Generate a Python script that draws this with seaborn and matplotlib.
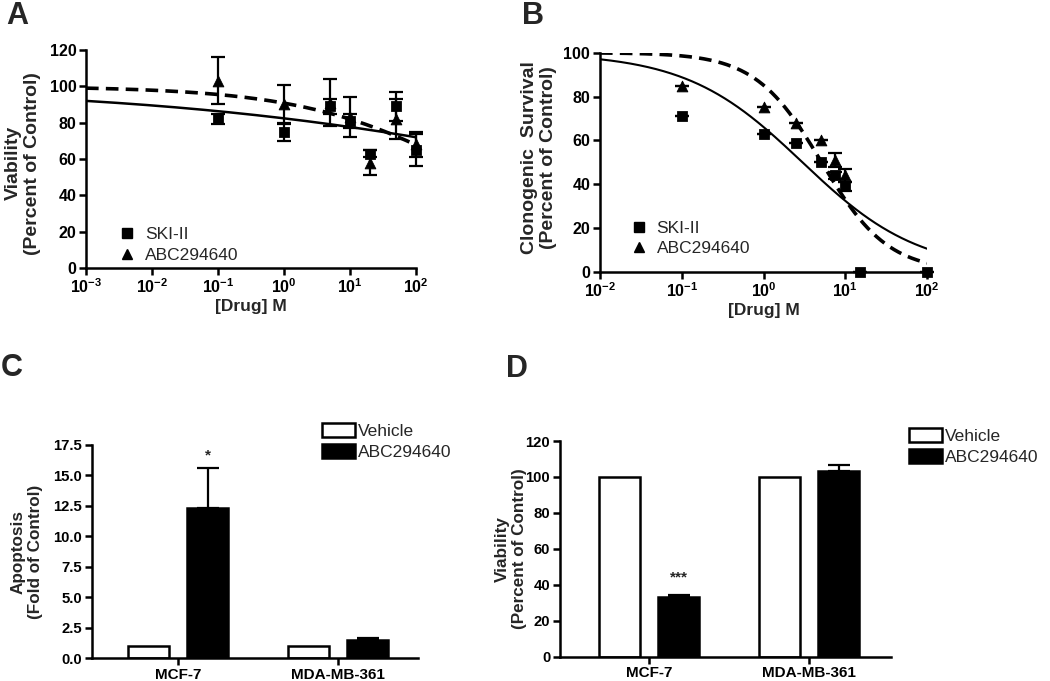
import numpy as np
import pandas as pd
import matplotlib
matplotlib.use('Agg')
import matplotlib.pyplot as plt
from matplotlib.lines import Line2D
from matplotlib.patches import Patch
import seaborn as sns

# ── Data ─────────────────────────────────────────────────────
# Panel A: viability vs dose (mean, SEM)
a_dose = [0.1, 1, 5, 10, 20, 50, 100]
a_ski = [82, 75, 89, 81, 63, 89, 65]
a_ski_err = [3, 5, 4, 4, 2, 8, 9]
a_abc = [103, 90, 91, 83, 58, 82, 68]
a_abc_err = [13, 11, 13, 11, 7, 11, 7]
# fitted curves: [top, bottom, logEC50, hill]
a_fit_ski = [100, 0, 5.15, 0.13]
a_fit_abc = [100, 0, 2.96, 0.335]

# Panel B: clonogenic survival
b_dose_ski = [0.1, 1, 2.5, 5, 7.5, 10, 15, 100]
b_ski = [71, 63, 59, 50, 44, 39, 0, 0]
b_ski_err = [0, 0, 0, 0, 1.5, 2, 0, 0]
b_dose_abc = [0.1, 1, 2.5, 5, 7.5, 10]
b_abc = [85, 75, 68, 60, 51, 44]
b_abc_err = [0, 0, 0, 0, 3, 3]
b_fit_ski = [100, 0, 0.475, 0.61]
b_fit_abc = [100, 0, 0.71, 1.07]

# Panels C / D: bars
cells = ['MCF-7', 'MDA-MB-361']
treatments = ['Vehicle', 'ABC294640']
c_vehicle = [1.0, 1.0]
c_abc = [12.3, 1.5]
c_abc_err = [3.3, 0.15]
d_vehicle = [100, 100]
d_abc = [33, 103.5]
d_abc_err = [1.5, 3.0]

log_ticks_a = [1e-3, 1e-2, 1e-1, 1e0, 1e1, 1e2]
log_labels_a = ['-3', '-2', '-1', '0', '1', '2']
log_ticks_b = [1e-2, 1e-1, 1e0, 1e1, 1e2]
log_labels_b = ['-2', '-1', '0', '1', '2']


def hill(x, p):
    top, bottom, logec50, h = p
    return bottom + (top - bottom) / (1 + 10 ** ((np.log10(x) - logec50) * h))


# ── Style ────────────────────────────────────────────────────
sns.set_style('ticks')
plt.rcParams['font.family'] = ['Liberation Sans', 'DejaVu Sans']
plt.rcParams['font.weight'] = 'bold'
plt.rcParams['axes.labelweight'] = 'bold'
plt.rcParams['mathtext.fontset'] = 'custom'
plt.rcParams['mathtext.bf'] = 'Liberation Sans:bold'
plt.rcParams['mathtext.rm'] = 'Liberation Sans'

SPINE = 1.8
LEG = {'weight': 'normal', 'size': 12.5}

fig = plt.figure(figsize=(10.5, 6.81), dpi=100)
axA = fig.add_axes([0.0819, 0.6065, 0.3143, 0.3201])
axB = fig.add_axes([0.5714, 0.6010, 0.3115, 0.3216])
axC = fig.add_axes([0.0873, 0.0333, 0.3107, 0.3133])
axD = fig.add_axes([0.5333, 0.0357, 0.3150, 0.3167])


def style_axis(ax, size):
    sns.despine(ax=ax)
    for s in ['left', 'bottom']:
        ax.spines[s].set_linewidth(SPINE)
        ax.spines[s].set_color('black')
    ax.tick_params(width=SPINE, length=5, labelsize=size, color='black',
                   labelcolor='black', pad=2)


# ── A ────────────────────────────────────────────────────────
xa = np.logspace(-3, 2, 300)
axA.set_xscale('log')
sns.lineplot(x=xa, y=hill(xa, a_fit_ski), ax=axA, color='black', lw=1.8)
sns.lineplot(x=xa, y=hill(xa, a_fit_abc), ax=axA, color='black', lw=2.6,
             linestyle=(0, (3.5, 2)))
axA.errorbar(a_dose, a_ski, yerr=a_ski_err, fmt='none', ecolor='black',
             elinewidth=1.6, capsize=5, capthick=1.6, clip_on=False)
axA.errorbar(a_dose, a_abc, yerr=a_abc_err, fmt='none', ecolor='black',
             elinewidth=1.6, capsize=5, capthick=1.6, clip_on=False)
sns.scatterplot(x=a_dose, y=a_ski, ax=axA, marker='s', color='black', s=50,
                edgecolor='black', zorder=5, clip_on=False)
sns.scatterplot(x=a_dose, y=a_abc, ax=axA, marker='^', color='black', s=60,
                edgecolor='black', zorder=5, clip_on=False)
axA.set_xlim(1e-3, 1e2)
axA.set_ylim(0, 120)
axA.set_yticks(range(0, 121, 20))
axA.set_xticks(log_ticks_a)
axA.set_xticklabels([r'$\mathbf{10^{%s}}$' % l for l in log_labels_a])
axA.xaxis.set_minor_locator(matplotlib.ticker.NullLocator())
axA.set_xlabel('[Drug] M', fontsize=12.5, labelpad=2)
axA.set_ylabel('Viability\n(Percent of Control)', fontsize=14)
axA.yaxis.set_label_coords(-0.135, 0.48)
style_axis(axA, 11.5)
hA = [Line2D([], [], marker='s', color='black', ls='none', markersize=7),
      Line2D([], [], marker='^', color='black', ls='none', markersize=7.5)]
axA.legend(hA, ['SKI-II', 'ABC294640'], loc='upper left',
           bbox_to_anchor=(0.073, 0.227), frameon=False, prop=LEG,
           borderpad=0, handlelength=1, handletextpad=0.5, labelspacing=0.3)

# ── B ────────────────────────────────────────────────────────
xb = np.logspace(-2, 2, 300)
axB.set_xscale('log')
sns.lineplot(x=xb, y=hill(xb, b_fit_ski), ax=axB, color='black', lw=1.5)
sns.lineplot(x=xb, y=hill(xb, b_fit_abc), ax=axB, color='black', lw=2.6,
             linestyle=(0, (3.5, 2)))
axB.errorbar(b_dose_ski, b_ski, yerr=b_ski_err, fmt='none', ecolor='black',
             elinewidth=1.6, capsize=5, capthick=1.6, clip_on=False)
axB.errorbar(b_dose_abc, b_abc, yerr=b_abc_err, fmt='none', ecolor='black',
             elinewidth=1.6, capsize=5, capthick=1.6, clip_on=False)
sns.scatterplot(x=b_dose_ski, y=b_ski, ax=axB, marker='s', color='black', s=50,
                edgecolor='black', zorder=5, clip_on=False)
sns.scatterplot(x=b_dose_abc, y=b_abc, ax=axB, marker='^', color='black', s=60,
                edgecolor='black', zorder=5, clip_on=False)
axB.set_xlim(1e-2, 1e2)
axB.set_ylim(0, 100)
axB.set_yticks(range(0, 101, 20))
axB.set_xticks(log_ticks_b)
axB.set_xticklabels([r'$\mathbf{10^{%s}}$' % l for l in log_labels_b])
axB.xaxis.set_minor_locator(matplotlib.ticker.NullLocator())
axB.set_xlabel('[Drug] M', fontsize=12.5, labelpad=2)
axB.set_ylabel('Clonogenic  Survival\n(Percent of Control)', fontsize=14)
axB.yaxis.set_label_coords(-0.131, 0.52)
style_axis(axB, 11.5)
axB.legend(hA, ['SKI-II', 'ABC294640'], loc='upper left',
           bbox_to_anchor=(0.067, 0.273), frameon=False, prop=LEG,
           borderpad=0, handlelength=1, handletextpad=0.5, labelspacing=0.3)


# ── C / D bars ───────────────────────────────────────────────
def bar_panel(ax, vehicle, abc, abc_err, ylim, yticks, fmt, star, star_y, xlim,
              leg_anchor):
    df = pd.DataFrame({
        'cell': cells * 2,
        'treatment': [treatments[0]] * 2 + [treatments[1]] * 2,
        'value': list(vehicle) + list(abc),
    })
    sns.barplot(data=df, x='cell', y='value', hue='treatment', ax=ax,
                hue_order=treatments, order=cells,
                palette={'Vehicle': 'white', 'ABC294640': 'black'},
                edgecolor='black', linewidth=1.8, width=0.74, gap=0.3,
                errorbar=None, legend=False)
    abc_bars = ax.containers[1]
    for bar, v, e in zip(abc_bars, abc, abc_err):
        cx = bar.get_x() + bar.get_width() / 2
        ax.errorbar([cx], [v], yerr=[[0], [e]], fmt='none', ecolor='black',
                    elinewidth=1.6, capsize=8, capthick=1.6, zorder=1)
    first = abc_bars[0]
    ax.text(first.get_x() + first.get_width() / 2, star_y, star,
            ha='center', va='center', fontsize=11)
    ax.set_ylim(*ylim)
    ax.set_xlim(*xlim)
    ax.set_yticks(yticks)
    ax.set_yticklabels([fmt.format(t) for t in yticks])
    ax.set_xlabel('')
    style_axis(ax, 10.7)
    ax.tick_params(axis='x', labelsize=11)
    hl = [Patch(facecolor='white', edgecolor='black', linewidth=1.8),
          Patch(facecolor='black', edgecolor='black', linewidth=1.8)]
    ax.legend(hl, treatments, loc='upper left', bbox_to_anchor=leg_anchor,
              frameon=False, prop=LEG, borderpad=0, handlelength=1.9,
              handleheight=0.85, handletextpad=0.2, labelspacing=0.3,
              borderaxespad=0)


bar_panel(axC, c_vehicle, c_abc, c_abc_err, (0, 17.5),
          [0, 2.5, 5, 7.5, 10, 12.5, 15, 17.5], '{:.1f}', '*', 16.6,
          (-0.54, 1.5), (0.705, 1.103))
axC.set_ylabel('Apoptosis\n(Fold of Control)', fontsize=12.3)
axC.yaxis.set_label_coords(-0.149, 0.5)

bar_panel(axD, d_vehicle, d_abc, d_abc_err, (0, 120),
          list(range(0, 121, 20)), '{:d}', '***', 44,
          (-0.556, 1.51), (1.055, 1.06))
axD.set_ylabel('Viability\n(Percent of Control)', fontsize=12.3)
axD.yaxis.set_label_coords(-0.10, 0.5)

# panel letters
for lbl, x, y in [('A', 0.006, 0.998), ('B', 0.497, 0.998),
                  ('C', 0.001, 0.482), ('D', 0.482, 0.480)]:
    fig.text(x, y, lbl, fontsize=22, fontweight='bold', va='top', ha='left')

fig.savefig('out.png', dpi=100)
